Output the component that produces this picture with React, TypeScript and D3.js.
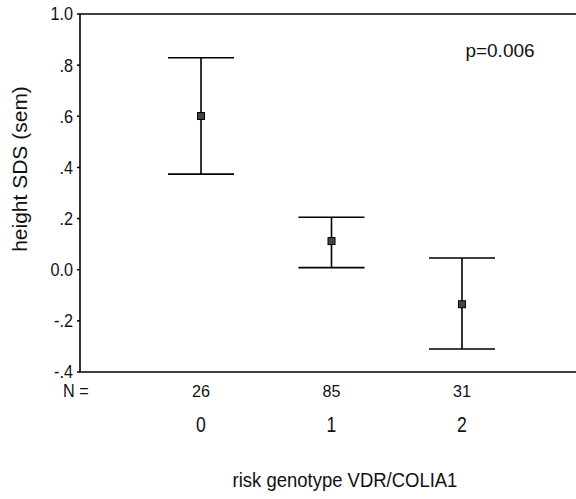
import React from "react";
import * as d3 from "d3";

const categories = ["0", "1", "2"];
const counts = [26, 85, 31];
const means = [0.601, 0.112, -0.135];
const upper = [0.829, 0.205, 0.046];
const lower = [0.374, 0.008, -0.31];
const yTicks = [1.0, 0.8, 0.6, 0.4, 0.2, 0.0, -0.2, -0.4];
const yTickLabels = ["1.0", ".8", ".6", ".4", ".2", "0.0", "-.2", "-.4"];

const W = 576;
const H = 499;
const FONT = "'Liberation Sans', Arial, sans-serif";

function T({ x, y, size, sx = 1, anchor = "middle", rotate = 0, children }: any) {
  return (
    <text
      transform={`translate(${x},${y}) rotate(${rotate}) scale(${sx},1)`}
      dy="0.36em"
      textAnchor={anchor}
      fontSize={size}
    >
      {children}
    </text>
  );
}

export default function App() {
  const left = 80;
  const right = 576;
  const y = d3.scaleLinear().domain([-0.4, 1.0]).range([372, 14]);
  const x = d3.scaleLinear().domain([0, 2]).range([201, 462]);
  const capHalf = 33;
  return (
    <svg width={W} height={H} style={{ position: "absolute", left: 0, top: 0, background: "#fff" }}>
      <g fontFamily={FONT} fill="#111">
        <line x1={left} x2={right} y1={y(1)} y2={y(1)} stroke="#000" strokeWidth={1.6} />
        <line x1={left} x2={right} y1={y(-0.4)} y2={y(-0.4)} stroke="#000" strokeWidth={1.6} />
        <line x1={left} x2={left} y1={y(1)} y2={y(-0.4)} stroke="#000" strokeWidth={1.6} />
        {yTicks.map((t, i) => (
          <g key={i}>
            <line x1={left - 3} x2={left} y1={y(t)} y2={y(t)} stroke="#000" strokeWidth={1.5} />
            <T x={left - 7} y={y(t)} size={18} sx={0.9} anchor="end">
              {yTickLabels[i]}
            </T>
          </g>
        ))}
        {categories.map((c, i) => (
          <g key={c} stroke="#000" strokeWidth={1.6}>
            <line x1={x(i)} x2={x(i)} y1={y(upper[i])} y2={y(lower[i])} />
            <line x1={x(i) - capHalf} x2={x(i) + capHalf} y1={y(upper[i])} y2={y(upper[i])} />
            <line x1={x(i) - capHalf} x2={x(i) + capHalf} y1={y(lower[i])} y2={y(lower[i])} />
            <rect x={x(i) - 3.5} y={y(means[i]) - 3.5} width={7} height={7} fill="#444" strokeWidth={1} />
          </g>
        ))}
        <T x={63} y={391} size={18} sx={0.9} anchor="start">N =</T>
        {categories.map((c, i) => (
          <g key={c}>
            <T x={x(i)} y={391} size={17} sx={0.95}>{counts[i]}</T>
            <T x={x(i)} y={424} size={22} sx={0.8}>{c}</T>
          </g>
        ))}
        <T x={345} y={479} size={21} sx={0.88}>risk genotype VDR/COLIA1</T>
        <T x={500} y={50} size={19} sx={1}>p=0.006</T>
        <text transform="translate(27,169) rotate(-90)" textAnchor="middle" fontSize={21}>
          height SDS (sem)
        </text>
      </g>
    </svg>
  );
}
